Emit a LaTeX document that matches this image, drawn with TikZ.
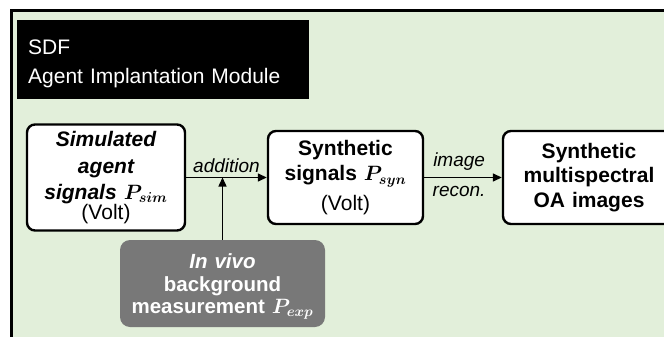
\documentclass[tikz,border=0pt]{standalone}
\usepackage[no-math]{fontspec}
\setmainfont{Liberation Sans}
\usepackage{bm}
\usetikzlibrary{arrows.meta,positioning}

\definecolor{panelgreen}{RGB}{226,239,218}
\definecolor{measgray}{RGB}{120,120,120}

\tikzset{
  block/.style={draw,line width=2.4pt,rounded corners=8pt,fill=white,align=center,
    inner sep=0pt,font=\fontsize{21}{25.5}\selectfont},
  meas/.style={fill=measgray,text=white,rounded corners=10pt,align=center,
    inner sep=0pt,font=\fontsize{20.5}{22.5}\selectfont\bfseries},
  flow/.style={-{Triangle[length=9pt,width=8pt]},line width=1.4pt},
  lbl/.style={font=\fontsize{19}{22}\selectfont\itshape}
}

\begin{document}
\begin{tikzpicture}[x=1pt,y=-1pt]
   \useasboundingbox (0,0) rectangle (664,337);
   \clip (0,0) rectangle (664,337);
   \fill[white] (0,0) rectangle (664,337);
   % module frame
   \draw[line width=3pt,fill=panelgreen] (11,11) rectangle (700,370);
   \node[fill=black,text=white,anchor=north west,text width=270pt,minimum height=79pt,
         inner xsep=11pt,align=left,font=\fontsize{21}{29}\selectfont] (head) at (17,20)
         {\rule{0pt}{23pt}SDF\\Agent Implantation Module};
   % blocks
   \node[block,text width=158pt,minimum height=106pt] (sim) at (106,177.5)
         {\fontsize{21}{26.5}\selectfont\bfseries\itshape Simulated\\ agent\\ signals $\bm{P_{sim}}$\\[-6pt] \mdseries\upshape (Volt)};
   \node[block,text width=155pt,minimum height=93pt] (syn) at (345.5,177.5)
         {\bfseries Synthetic\\ signals $\bm{P_{syn}}$\\[4pt] \mdseries (Volt)};
   \node[block,text width=172pt,minimum height=93pt] (oa) at (589,177.5)
         {\bfseries Synthetic\\[-1pt] multispectral\\[-1pt] OA images};
   \node[meas,text width=205pt,minimum height=87pt] (bg) at (222.5,283.5)
         {\rule{0pt}{21pt}{\itshape In vivo}\\ background\\ measurement $\bm{P_{exp}}$};
   % connectors
   \draw[flow] (sim) -- node[lbl,above=1pt,pos=0.5] (add) {addition} (syn);
   \draw[flow] (syn) -- node[lbl,above=3pt,pos=0.45] (img) {image}
                        node[lbl,below=5pt,pos=0.45] (rec) {recon.} (oa);
   \draw[flow] (bg) -- (bg |- sim);
\end{tikzpicture}
\end{document}
